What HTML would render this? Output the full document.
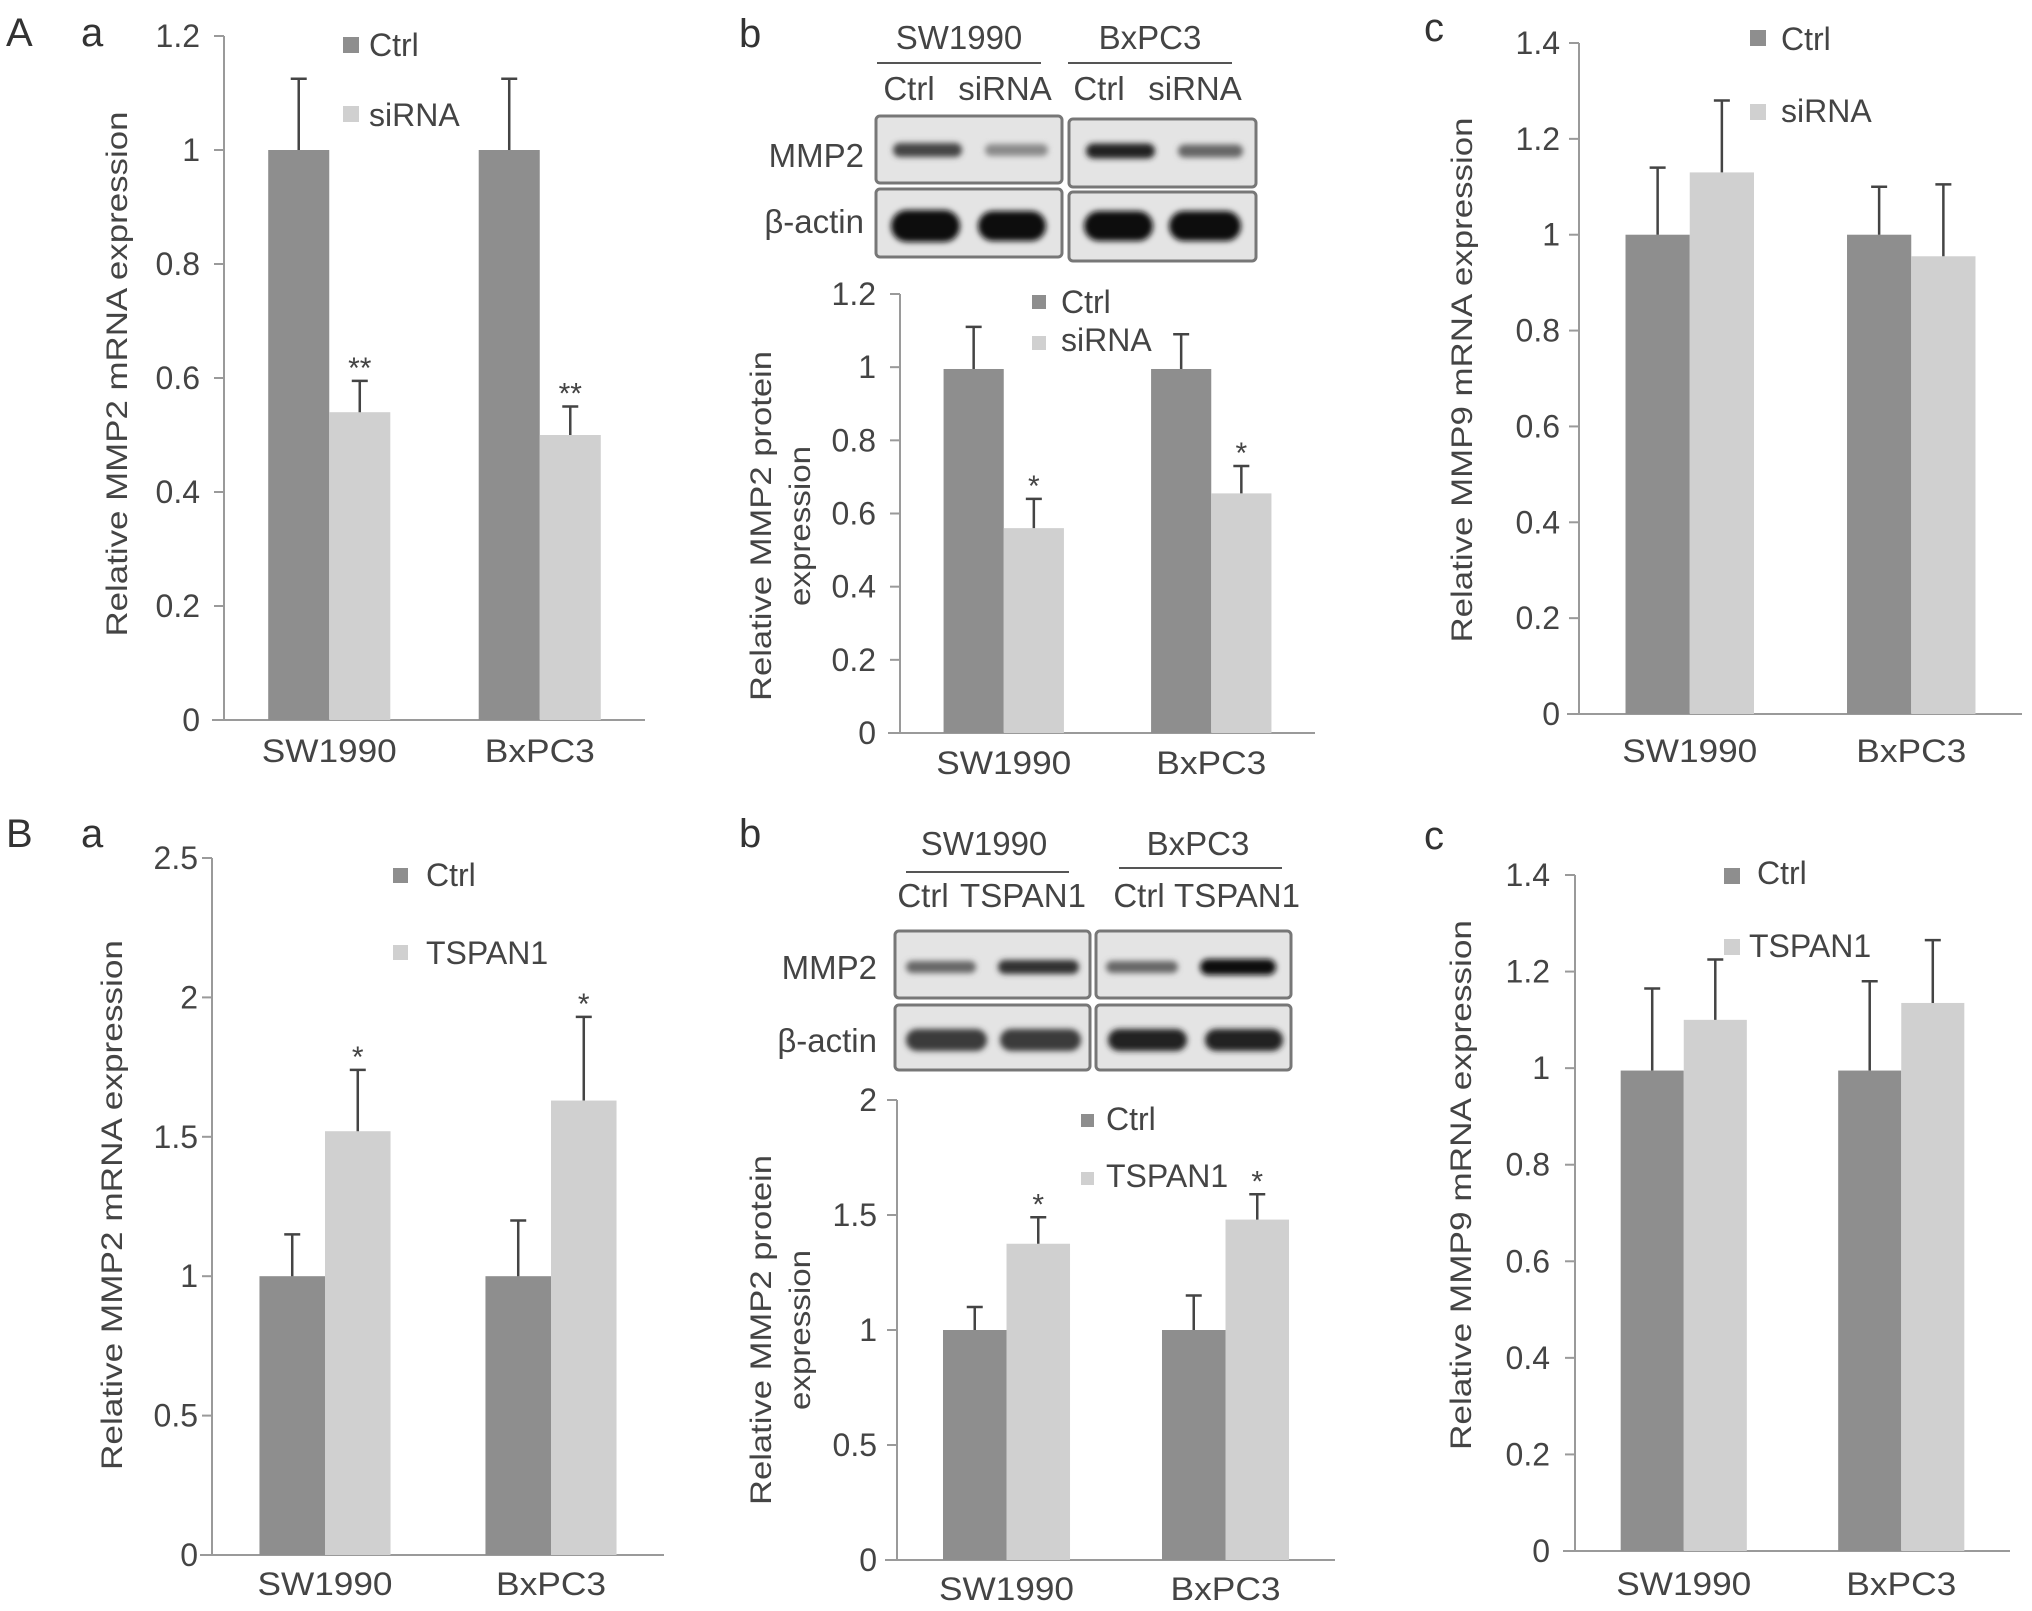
<!DOCTYPE html>
<html><head><meta charset="utf-8"><style>
html,body{margin:0;padding:0;background:#fff;}
svg{display:block;font-family:"Liberation Sans",Arial,sans-serif;}
</style></head><body>
<svg id="fig" width="2032" height="1611" viewBox="0 0 2032 1611" xmlns="http://www.w3.org/2000/svg">
<defs>
<filter id="blur" x="-20%" y="-50%" width="140%" height="200%"><feGaussianBlur stdDeviation="3"/></filter>
</defs>
<g id="labels" fill="#333">
<text x="6" y="46" font-size="40">A</text>
<text x="81" y="46" font-size="40">a</text>
<text x="739" y="47" font-size="40">b</text>
<text x="1424" y="41" font-size="40">c</text>
<text x="6" y="847" font-size="40">B</text>
<text x="81" y="847" font-size="40">a</text>
<text x="739" y="847" font-size="40">b</text>
<text x="1424" y="849" font-size="40">c</text>
</g>
<g id="blots"></g>
<g id="charts"></g>
</svg>
<script>
// ---------- data ----------
const categories = ["SW1990", "BxPC3"];
// A a
const aaTicks = [0, 0.2, 0.4, 0.6, 0.8, 1, 1.2];
const aaCtrl = [1.0, 1.0];
const aaCtrlErr = [0.125, 0.125];
const aaTrt = [0.54, 0.50];
const aaTrtErr = [0.055, 0.05];
const aaStars = ["**", "**"];
// A b
const abTicks = [0, 0.2, 0.4, 0.6, 0.8, 1, 1.2];
const abCtrl = [0.995, 0.995];
const abCtrlErr = [0.115, 0.095];
const abTrt = [0.56, 0.655];
const abTrtErr = [0.08, 0.075];
const abStars = ["*", "*"];
// A c
const acTicks = [0, 0.2, 0.4, 0.6, 0.8, 1, 1.2, 1.4];
const acCtrl = [1.0, 1.0];
const acCtrlErr = [0.14, 0.10];
const acTrt = [1.13, 0.955];
const acTrtErr = [0.15, 0.15];
const acStars = ["", ""];
// B a
const baTicks = [0, 0.5, 1, 1.5, 2, 2.5];
const baCtrl = [1.0, 1.0];
const baCtrlErr = [0.15, 0.20];
const baTrt = [1.52, 1.63];
const baTrtErr = [0.22, 0.30];
const baStars = ["*", "*"];
// B b
const bbTicks = [0, 0.5, 1, 1.5, 2];
const bbCtrl = [1.0, 1.0];
const bbCtrlErr = [0.10, 0.15];
const bbTrt = [1.375, 1.48];
const bbTrtErr = [0.115, 0.11];
const bbStars = ["*", "*"];
// B c
const bcTicks = [0, 0.2, 0.4, 0.6, 0.8, 1, 1.2, 1.4];
const bcCtrl = [0.995, 0.995];
const bcCtrlErr = [0.17, 0.185];
const bcTrt = [1.10, 1.135];
const bcTrtErr = [0.125, 0.13];
const bcStars = ["", ""];

const NS = "http://www.w3.org/2000/svg";
function mk(tag, attrs, parent) {
  const e = document.createElementNS(NS, tag);
  for (const k in attrs) e.setAttribute(k, attrs[k]);
  parent.appendChild(e);
  return e;
}
const chartsG = document.getElementById('charts');

function drawChart(L, ticks, ctrl, ctrlErr, trt, trtErr, stars, trtName, id) {
  const g = mk('g', {}, chartsG);
  
  
  const maxT = ticks[ticks.length - 1];
  const y = v => L.y0 - (v / maxT) * (L.y0 - L.yTop);
  const band = (L.xEnd - L.x0) / categories.length;
  const bw = band * 0.29;
  const ya = mk('line', {x1: L.x0, y1: L.yTop, x2: L.x0, y2: L.y0, stroke: '#9a9a9a', 'stroke-width': 2}, g);
  
  
  const xa = mk('line', {x1: L.x0 - 12, y1: L.y0, x2: L.xEnd, y2: L.y0, stroke: '#9a9a9a', 'stroke-width': 2}, g);
  
  
  ticks.forEach(t => {
    const ty = y(t);
    mk('line', {x1: L.x0 - 10, y1: ty, x2: L.x0, y2: ty, stroke: '#9a9a9a', 'stroke-width': 2}, g);
    const tl = mk('text', {x: L.tickR, y: ty + 11, 'font-size': 32, fill: '#444', 'text-anchor': 'end'}, g);
    tl.textContent = String(t);
    
    
  });
  categories.forEach((c, i) => {
    const cx = L.x0 + band * (i + 0.5);
    const series = [[ctrl[i], ctrlErr[i], '#8e8e8e', cx - bw, 'ctrl'], [trt[i], trtErr[i], '#d0d0d0', cx, 'trt']];
    series.forEach(s => {
      const top = y(s[0]);
      const r = mk('rect', {x: s[3], y: top, width: bw, height: L.y0 - top, fill: s[2]}, g);
      
      
      const ex = s[3] + bw / 2;
      const et = y(s[0] + s[1]);
      const eb = mk('path', {d: `M${ex},${top} V${et} M${ex - 8},${et} H${ex + 8}`, stroke: '#444', 'stroke-width': 2.5, fill: 'none'}, g);
      
      
      if (s[4] === 'trt' && stars[i]) {
        const st = mk('text', {x: ex, y: et - 3, 'font-size': 30, fill: '#444', 'text-anchor': 'middle'}, g);
        st.textContent = stars[i];
        
        
      }
    });
    const xl = mk('text', {x: cx, y: L.xlabY, 'font-size': 32, fill: '#444', 'text-anchor': 'middle', textLength: c === 'SW1990' ? 135 : 110, lengthAdjust: 'spacingAndGlyphs'}, g);
    xl.textContent = c;
    
    
  });
  [['Ctrl', '#8e8e8e', L.leg[0]], [trtName, '#d0d0d0', L.leg[1]]].forEach((e, k) => {
    const sq = mk('rect', {x: e[2][0], y: e[2][1], width: e[2][2], height: e[2][2], fill: e[1]}, g);
    
    
    const lt = mk('text', {x: e[2][3], y: e[2][4], 'font-size': 32, fill: '#444'}, g);
    lt.textContent = e[0];
    
    
  });
  L.ytitle.forEach(t => {
    const yt = mk('text', {x: 0, y: 0, 'font-size': 30, fill: '#444', 'text-anchor': 'middle', transform: `translate(${t[1]},${t[2]}) rotate(-90)`, textLength: t[3], lengthAdjust: 'spacingAndGlyphs'}, g);
    yt.textContent = t[0];
    
    
  });
}

drawChart({x0: 224, xEnd: 645, yTop: 36, y0: 720, tickR: 200, xlabY: 762,
  leg: [[343, 37, 16, 369, 56], [343, 106, 16, 369, 126]],
  ytitle: [["Relative MMP2 mRNA expression", 127, 374, 525]]},
  aaTicks, aaCtrl, aaCtrlErr, aaTrt, aaTrtErr, aaStars, 'siRNA', 'aa');
drawChart({x0: 900, xEnd: 1315, yTop: 294, y0: 733, tickR: 876, xlabY: 774,
  leg: [[1032, 295, 14, 1061, 313], [1032, 336, 14, 1061, 351]],
  ytitle: [["Relative MMP2 protein", 771, 526, 350], ["expression", 810, 526, 160]]},
  abTicks, abCtrl, abCtrlErr, abTrt, abTrtErr, abStars, 'siRNA', 'ab');
drawChart({x0: 1579, xEnd: 2022, yTop: 43, y0: 714, tickR: 1560, xlabY: 762,
  leg: [[1750, 30, 16, 1781, 50], [1750, 104, 16, 1781, 122]],
  ytitle: [["Relative MMP9 mRNA expression", 1472, 380, 525]]},
  acTicks, acCtrl, acCtrlErr, acTrt, acTrtErr, acStars, 'siRNA', 'ac');
drawChart({x0: 212, xEnd: 664, yTop: 858, y0: 1555, tickR: 198, xlabY: 1595,
  leg: [[393, 868, 15, 426, 886], [393, 945, 15, 426, 964]],
  ytitle: [["Relative MMP2 mRNA expression", 122, 1205, 530]]},
  baTicks, baCtrl, baCtrlErr, baTrt, baTrtErr, baStars, 'TSPAN1', 'ba');
drawChart({x0: 897, xEnd: 1335, yTop: 1100, y0: 1560, tickR: 877, xlabY: 1600,
  leg: [[1081, 1114, 13, 1106, 1130], [1081, 1172, 13, 1106, 1187]],
  ytitle: [["Relative MMP2 protein", 771, 1330, 350], ["expression", 810, 1330, 160]]},
  bbTicks, bbCtrl, bbCtrlErr, bbTrt, bbTrtErr, bbStars, 'TSPAN1', 'bb');
drawChart({x0: 1575, xEnd: 2010, yTop: 875, y0: 1551, tickR: 1550, xlabY: 1595,
  leg: [[1724, 868, 16, 1757, 884], [1724, 939, 16, 1749, 957]],
  ytitle: [["Relative MMP9 mRNA expression", 1471, 1185, 530]]},
  bcTicks, bcCtrl, bcCtrlErr, bcTrt, bcTrtErr, bcStars, 'TSPAN1', 'bc');

// ---------- western blots ----------
const blotsG = document.getElementById('blots');
function blot(B) {
  const g = mk('g', {}, blotsG);
  
  
  B.headers.forEach(h => {
    const t = mk('text', {x: h[1], y: h[2], 'font-size': 33, fill: '#444', 'text-anchor': 'middle'}, g);
    t.textContent = h[0];
    
    
    mk('line', {x1: h[3], x2: h[4], y1: h[5], y2: h[5], stroke: '#555', 'stroke-width': 2}, g);
  });
  B.lanes.forEach(l => {
    const t = mk('text', {x: l[1], y: B.laneY, 'font-size': 33, fill: '#444', 'text-anchor': 'middle'}, g);
    t.textContent = l[0];
    
    
  });
  B.boxes.forEach(bx => {
    const r = mk('rect', {x: bx[0], y: bx[1], width: bx[2] - bx[0], height: bx[3] - bx[1], fill: '#e4e4e4', stroke: '#777', 'stroke-width': 3, rx: 4}, g);
    
    
  });
  B.bands.forEach(b => {
    const r = mk('rect', {x: b[0], y: b[1] - b[3] / 2, width: b[2] - b[0], height: b[3], rx: b[3] / 2, fill: b[4], filter: 'url(#blur)'}, g);
    
    
  });
  B.rowLabels.forEach(rl => {
    const t = mk('text', {x: B.rowLabelR, y: rl[1], 'font-size': 33, fill: '#444', 'text-anchor': 'end'}, g);
    t.textContent = rl[0];
    
    
  });
}
blot({id: 'ab', laneY: 100, rowLabelR: 864,
  headers: [["SW1990", 959, 49, 877, 1041, 63], ["BxPC3", 1150, 49, 1068, 1232, 63]],
  lanes: [["Ctrl", 909], ["siRNA", 1005], ["Ctrl", 1099], ["siRNA", 1195]],
  boxes: [[876, 116, 1062, 183], [876, 189, 1062, 257], [1069, 119, 1256, 187], [1069, 192, 1256, 261]],
  bands: [[893, 150, 962, 14, '#444'], [985, 150, 1048, 12, '#8a8a8a'], [1086, 151, 1155, 15, '#222'], [1178, 151, 1243, 13, '#666'],
          [891, 226, 960, 32, '#0c0c0c'], [978, 226, 1046, 30, '#111'], [1084, 226, 1153, 30, '#111'], [1169, 226, 1241, 30, '#111']],
  rowLabels: [["MMP2", 167], ["β-actin", 233]]});
blot({id: 'bb', laneY: 907, rowLabelR: 877,
  headers: [["SW1990", 984, 855, 906, 1069, 872], ["BxPC3", 1198, 855, 1119, 1282, 868]],
  lanes: [["Ctrl", 923], ["TSPAN1", 1023], ["Ctrl", 1139], ["TSPAN1", 1237]],
  boxes: [[895, 931, 1090, 998], [895, 1005, 1090, 1070], [1096, 931, 1291, 998], [1096, 1005, 1291, 1070]],
  bands: [[906, 967, 976, 12, '#666'], [998, 967, 1079, 14, '#333'], [1106, 967, 1178, 12, '#666'], [1200, 967, 1276, 16, '#111'],
          [906, 1040, 987, 22, '#3a3a3a'], [1000, 1040, 1081, 22, '#3a3a3a'], [1108, 1040, 1187, 22, '#222'], [1205, 1040, 1283, 22, '#222']],
  rowLabels: [["MMP2", 979], ["β-actin", 1052]]});
</script>
</body></html>
